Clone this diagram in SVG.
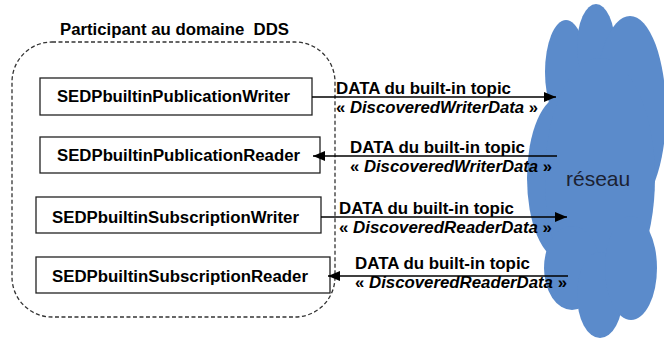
<svg xmlns="http://www.w3.org/2000/svg" width="664" height="340" viewBox="0 0 664 340">
  <defs>
    <marker id="arrow" viewBox="0 0 12 10" refX="12" refY="5" markerWidth="12" markerHeight="10" markerUnits="userSpaceOnUse" orient="auto">
      <path d="M0,0 L12,5 L0,10 Z" fill="#000"/>
    </marker>
  </defs>
  <style>
    .cloud { fill: #5b8bcb; }
    .box { fill: #fff; stroke: #222; stroke-width: 1.3; }
    .boxlabel { font-family: "Liberation Sans", Arial, sans-serif; font-weight: bold; font-size: 16px; fill: #000; }
    .title { font-family: "Liberation Sans", Arial, sans-serif; font-weight: bold; font-size: 16px; fill: #000; white-space: pre; }
    .msg { font-family: "Liberation Sans", Arial, sans-serif; font-weight: bold; font-size: 16px; fill: #000; }
    .msg .it { font-style: italic; }
    .wire { stroke: #000; stroke-width: 1.5; fill: none; marker-end: url(#arrow); }
    .frame { fill: none; stroke: #333; stroke-width: 1.3; stroke-dasharray: 4 2.5; }
    .net { font-family: "Liberation Sans", Arial, sans-serif; font-size: 21px; fill: #1b2233; }
  </style>

  <!-- network cloud -->
  <g id="reseau">
    <g class="cloud">
      <ellipse cx="566" cy="72" rx="21" ry="52"/>
      <ellipse cx="596" cy="46" rx="19" ry="42"/>
      <ellipse cx="630" cy="112" rx="36" ry="96"/>
      <ellipse cx="562" cy="178" rx="35" ry="82"/>
      <ellipse cx="600" cy="178" rx="55" ry="120"/>
      <ellipse cx="572" cy="268" rx="28" ry="42"/>
      <ellipse cx="600" cy="295" rx="23" ry="43"/>
      <ellipse cx="631" cy="268" rx="26" ry="52"/>
    </g>
    <text class="net" x="566" y="186">réseau</text>
  </g>

  <!-- DDS domain participant -->
  <g id="participant">
    <rect class="frame" x="12" y="42" width="323" height="275" rx="40" ry="40"/>
    <text class="title" x="60" y="35" textLength="229" lengthAdjust="spacingAndGlyphs">Participant au domaine&#160; DDS</text>
  </g>

  <g id="pubWriter">
    <rect class="box" x="40" y="78" width="272" height="37"/>
    <text class="boxlabel" x="57" y="102" textLength="233" lengthAdjust="spacingAndGlyphs">SEDPbuiltinPublicationWriter</text>
  </g>
  <g id="pubReader">
    <rect class="box" x="40" y="137" width="280" height="36"/>
    <text class="boxlabel" x="57" y="161" textLength="243" lengthAdjust="spacingAndGlyphs">SEDPbuiltinPublicationReader</text>
  </g>
  <g id="subWriter">
    <rect class="box" x="36" y="197" width="285" height="36"/>
    <text class="boxlabel" x="52" y="223" textLength="247" lengthAdjust="spacingAndGlyphs">SEDPbuiltinSubscriptionWriter</text>
  </g>
  <g id="subReader">
    <rect class="box" x="36" y="257" width="294" height="36"/>
    <text class="boxlabel" x="52" y="282" textLength="256" lengthAdjust="spacingAndGlyphs">SEDPbuiltinSubscriptionReader</text>
  </g>

  <!-- connectors -->
  <g id="connectors">
    <line class="wire" x1="312" y1="97" x2="556" y2="97"/>
    <line class="wire" x1="557" y1="156" x2="313" y2="156"/>
    <line class="wire" x1="321" y1="217" x2="567" y2="217"/>
    <line class="wire" x1="568" y1="276" x2="328" y2="276"/>
  </g>

  <!-- connector labels -->
  <g id="labels" class="msg">
    <text x="336" y="94" textLength="175" lengthAdjust="spacingAndGlyphs">DATA du built-in topic</text>
    <text x="336" y="113" textLength="202" lengthAdjust="spacingAndGlyphs">« <tspan class="it">DiscoveredWriterData</tspan> »</text>
    <text x="350" y="153" textLength="175" lengthAdjust="spacingAndGlyphs">DATA du built-in topic</text>
    <text x="350" y="172" textLength="202" lengthAdjust="spacingAndGlyphs">« <tspan class="it">DiscoveredWriterData</tspan> »</text>
    <text x="339" y="214" textLength="175" lengthAdjust="spacingAndGlyphs">DATA du built-in topic</text>
    <text x="339" y="233" textLength="213" lengthAdjust="spacingAndGlyphs">« <tspan class="it">DiscoveredReaderData</tspan> »</text>
    <text x="355" y="269" textLength="175" lengthAdjust="spacingAndGlyphs">DATA du built-in topic</text>
    <text x="355" y="288" textLength="212" lengthAdjust="spacingAndGlyphs">« <tspan class="it">DiscoveredReaderData</tspan> »</text>
  </g>
</svg>
